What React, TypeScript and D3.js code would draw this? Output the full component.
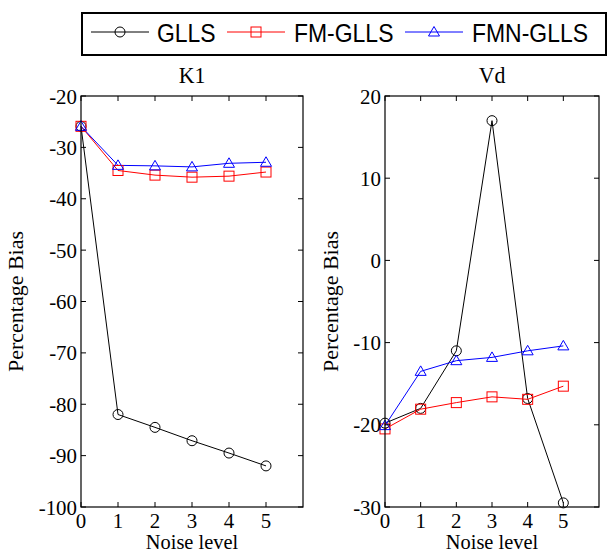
import React from "react";
import * as d3 from "d3";

const noiseLevels = [0, 1, 2, 3, 4, 5];
const seriesNames = ["GLLS", "FM-GLLS", "FMN-GLLS"];
const seriesColors = ["#000000", "#ff0000", "#0000ff"];
const seriesMarkers = ["circle", "square", "triangle"];

const k1GLLS = [-25.9, -82.0, -84.5, -87.1, -89.5, -92.0];
const k1FMGLLS = [-25.9, -34.5, -35.4, -35.8, -35.6, -34.8];
const k1FMNGLLS = [-25.9, -33.5, -33.6, -33.8, -33.1, -32.9];

const vdGLLS = [-19.8, -18.0, -11.0, 17.0, -16.8, -29.5];
const vdFMGLLS = [-20.5, -18.1, -17.3, -16.6, -16.9, -15.3];
const vdFMNGLLS = [-20.1, -13.5, -12.2, -11.8, -11.0, -10.4];

const k1Ticks = [-100, -90, -80, -70, -60, -50, -40, -30, -20];
const vdTicks = [-30, -20, -10, 0, 10, 20];
const xTicks = [0, 1, 2, 3, 4, 5];

const SERIF = "'Liberation Serif', 'Times New Roman', serif";
const SANS = "'Liberation Sans', Arial, sans-serif";

function Marker({ type, x, y, color }: { type: string; x: number; y: number; color: string }) {
  if (type === "circle") return <circle cx={x} cy={y} r={5} fill="none" stroke={color} strokeWidth={1} />;
  if (type === "square") return <rect x={x - 5} y={y - 5} width={10} height={10} fill="none" stroke={color} strokeWidth={1} />;
  return <path d={`M${x},${y - 5.5}L${x + 5.5},${y + 4}L${x - 5.5},${y + 4}Z`} fill="none" stroke={color} strokeWidth={1} />;
}

function Panel({ left, right, top, bottom, yDomain, yTicks, title, series, ylabelX }: any) {
  const x = d3.scaleLinear().domain([0, 6]).range([left, right]);
  const y = d3.scaleLinear().domain(yDomain).range([bottom, top]);
  const line = d3.line<number>().x((_, i) => x(noiseLevels[i])).y((d) => y(d));
  const T = 5;
  return (
    <g>
      {series.map((vals: number[], si: number) => (
        <g key={si}>
          <path d={line(vals) || ""} fill="none" stroke={seriesColors[si]} strokeWidth={1} />
        </g>
      ))}
      {series.map((vals: number[], si: number) => (
        <g key={"m" + si}>
          {vals.map((v, i) => (
            <Marker key={i} type={seriesMarkers[si]} x={x(noiseLevels[i])} y={y(v)} color={seriesColors[si]} />
          ))}
        </g>
      ))}
      <rect x={left} y={top} width={right - left} height={bottom - top} fill="none" stroke="#000" strokeWidth={1.2} />
      {xTicks.map((t) => (
        <g key={"xt" + t}>
          <line x1={x(t)} x2={x(t)} y1={bottom} y2={bottom - T} stroke="#000" />
          <line x1={x(t)} x2={x(t)} y1={top} y2={top + T} stroke="#000" />
          <text transform={`translate(${x(t)},${bottom + 21}) scale(0.95,1)`} textAnchor="middle" fontFamily={SERIF} fontSize={22}>{t}</text>
        </g>
      ))}
      {yTicks.map((t: number) => (
        <g key={"yt" + t}>
          <line x1={left} x2={left + T} y1={y(t)} y2={y(t)} stroke="#000" />
          <line x1={right} x2={right - T} y1={y(t)} y2={y(t)} stroke="#000" />
          <text transform={`translate(${left - 4},${y(t) + 7.5}) scale(0.95,1)`} textAnchor="end" fontFamily={SERIF} fontSize={22}>{t}</text>
        </g>
      ))}
      <text transform={`translate(${(left + right) / 2},${top - 13}) scale(0.95,1)`} textAnchor="middle" fontFamily={SERIF} fontSize={23}>{title}</text>
      <text transform={`translate(${(left + right) / 2},${bottom + 42}) scale(0.95,1)`} textAnchor="middle" fontFamily={SERIF} fontSize={21.5}>Noise level</text>
      <text transform={`translate(${ylabelX},${(top + bottom) / 2}) rotate(-90)`} textAnchor="middle" fontFamily={SERIF} fontSize={22}>Percentage Bias</text>
    </g>
  );
}

export default function App() {
  const legendItems = [
    { l1: 91, l2: 149, tx: 157 },
    { l1: 227, l2: 285, tx: 294 },
    { l1: 405, l2: 463, tx: 472 },
  ];
  return (
    <svg width={608} height={554} style={{ position: "absolute", left: 0, top: 0, background: "#fff" }}>
      <rect x={0} y={0} width={608} height={554} fill="#fff" />
      <rect x={82} y={13} width={524} height={42} fill="none" stroke="#000" strokeWidth={2} />
      {legendItems.map((it, i) => (
        <g key={i}>
          <line x1={it.l1} x2={it.l2} y1={32} y2={32} stroke={seriesColors[i]} strokeWidth={1} />
          <Marker type={seriesMarkers[i]} x={(it.l1 + it.l2) / 2} y={32} color={seriesColors[i]} />
          <text transform={`translate(${it.tx},${42}) scale(0.9,1)`} fontFamily={SANS} fontSize={25.5}>{seriesNames[i]}</text>
        </g>
      ))}
      <Panel left={81} right={303} top={96} bottom={507} yDomain={[-100, -20]} yTicks={k1Ticks} title="K1"
        series={[k1GLLS, k1FMGLLS, k1FMNGLLS]} ylabelX={23} />
      <Panel left={385} right={599} top={96} bottom={507} yDomain={[-30, 20]} yTicks={vdTicks} title="Vd"
        series={[vdGLLS, vdFMGLLS, vdFMNGLLS]} ylabelX={338} />
    </svg>
  );
}
